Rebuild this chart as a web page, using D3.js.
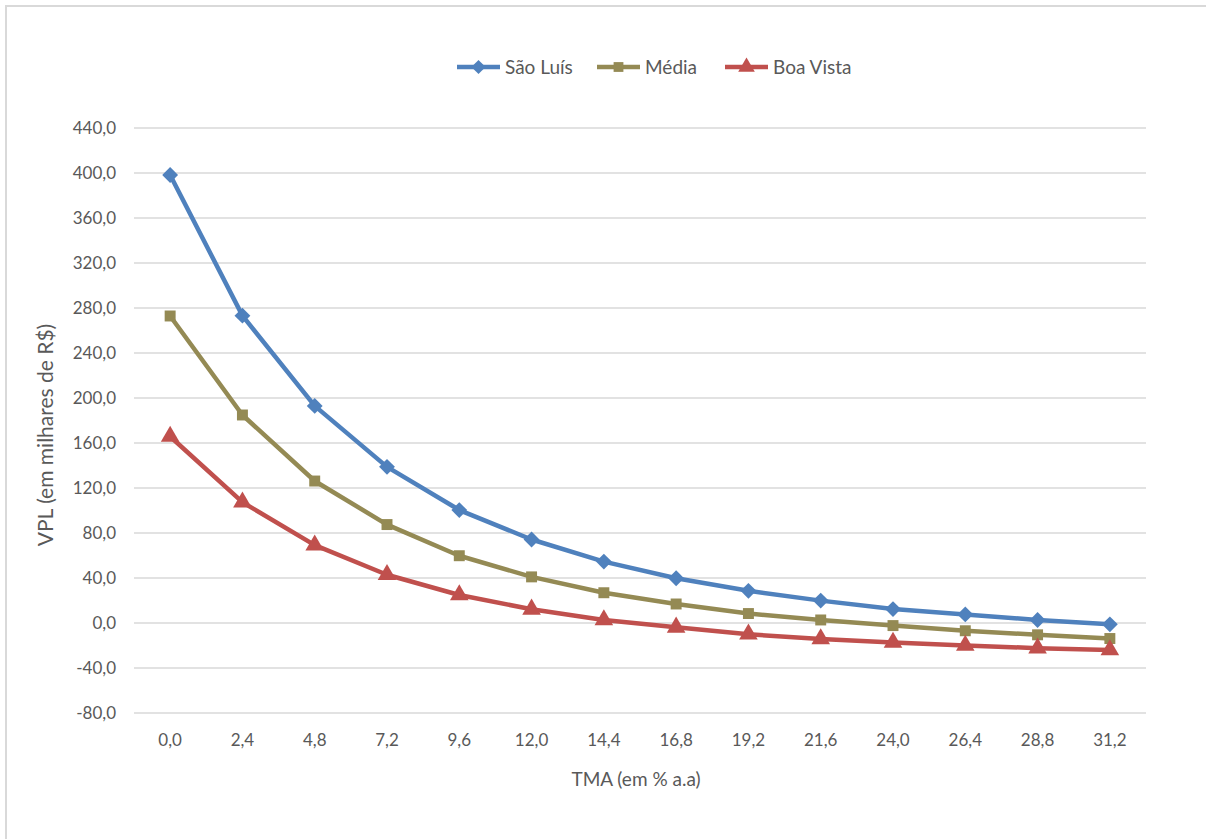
<!DOCTYPE html>
<html>
<head>
<meta charset="utf-8">
<script src="https://cdn.jsdelivr.net/npm/d3@7"></script>
<style>
  html, body { margin: 0; padding: 0; background: #fff; }
  svg { display: block; font-family: Lato, "Open Sans", sans-serif; }
</style>
</head>
<body>
<svg id="chart" width="1206" height="839"></svg>
<script>
// TMA rates (% a.a) on the x axis
const rates = ["0,0", "2,4", "4,8", "7,2", "9,6", "12,0", "14,4", "16,8", "19,2", "21,6", "24,0", "26,4", "28,8", "31,2"];

// VPL in thousands of R$
const saoLuis   = [398.2, 273.2, 193.0, 138.8, 100.4, 74.2, 54.6, 39.8, 28.6, 19.9, 12.4, 7.6, 2.7, -1.2];
const media     = [272.9, 184.9, 126.2, 87.5, 59.8, 41.0, 26.9, 16.9, 8.4, 2.7, -2.3, -6.9, -10.5, -13.8];
const boaVista  = [165.8, 107.4, 69.2, 42.9, 24.9, 12.2, 2.7, -3.8, -10.0, -14.2, -17.3, -19.9, -22.4, -24.0];

const yTicks = [-80, -40, 0, 40, 80, 120, 160, 200, 240, 280, 320, 360, 400, 440];

const seriesNames = ["São Luís", "Média", "Boa Vista"];
const seriesColors = ["#4F81BD", "#948A54", "#C0504D"];
const seriesMarkers = [d3.symbolDiamond2 || d3.symbolDiamond, d3.symbolSquare, d3.symbolTriangle];

const series = [saoLuis, media, boaVista].map((values, i) => ({
  name: seriesNames[i], color: seriesColors[i], marker: seriesMarkers[i], values
}));

const svg = d3.select("#chart");
const W = 1206, H = 839;

// outer chart frame
svg.append("rect")
  .attr("x", 6).attr("y", 6)
  .attr("width", W + 20).attr("height", H + 20)
  .attr("fill", "#fff").attr("stroke", "#d9d9d9").attr("stroke-width", 2);

const plot = { left: 134, right: 1146, top: 128, bottom: 713 };

const x = d3.scaleBand().domain(rates).range([plot.left, plot.right]);
const y = d3.scaleLinear().domain([-80, 440]).range([plot.bottom, plot.top]);

const fmt = v => d3.format(".1f")(v).replace(".", ",").replace("−", "-");

// horizontal gridlines
svg.append("g")
  .selectAll("line").data(yTicks).join("line")
  .attr("x1", plot.left).attr("x2", plot.right)
  .attr("y1", d => y(d)).attr("y2", d => y(d))
  .attr("stroke", "#d9d9d9").attr("stroke-width", 1.3);

// y axis labels
const yAxis = d3.axisLeft(y).tickValues(yTicks).tickSize(0).tickPadding(0).tickFormat(fmt);
const gy = svg.append("g").attr("transform", `translate(${plot.left - 18},0)`).call(yAxis);
gy.select(".domain").remove();
gy.selectAll("text").attr("fill", "#595959").attr("font-size", 17).attr("font-family", "Lato, 'Open Sans', sans-serif");

// x axis labels
const xAxis = d3.axisBottom(x).tickSize(0).tickPadding(0);
const gx = svg.append("g").attr("transform", `translate(0,${plot.bottom + 21})`).call(xAxis);
gx.select(".domain").remove();
gx.selectAll("text").attr("fill", "#595959").attr("font-size", 17).attr("font-family", "Lato, 'Open Sans', sans-serif");

// axis titles
svg.append("text")
  .attr("x", 636).attr("y", 786)
  .attr("text-anchor", "middle").attr("fill", "#595959").attr("font-size", 19)
  .text("TMA (em % a.a)");

svg.append("text")
  .attr("transform", "translate(53,435) rotate(-90)")
  .attr("text-anchor", "middle").attr("fill", "#595959").attr("font-size", 21)
  .text("VPL (em milhares de R$)");

// lines and markers
const line = d3.line()
  .x((d, i) => x(rates[i]) + x.bandwidth() / 2)
  .y(d => y(d));

const symbolSize = [160, 120, 150];

series.forEach((s, si) => {
  svg.append("path")
    .attr("d", line(s.values))
    .attr("fill", "none").attr("stroke", s.color)
    .attr("stroke-width", 4.5).attr("stroke-linejoin", "round");
  svg.append("g").selectAll("path").data(s.values).join("path")
    .attr("transform", (d, i) => `translate(${x(rates[i]) + x.bandwidth() / 2},${y(d)})`)
    .attr("d", d3.symbol().type(s.marker).size(symbolSize[si]))
    .attr("fill", s.color);
});

// legend
const legendX = [457, 597, 725];
const legend = svg.append("g");
series.forEach((s, i) => {
  const g = legend.append("g").attr("transform", `translate(${legendX[i]},67)`);
  g.append("line").attr("x1", 0).attr("x2", 43).attr("y1", 0).attr("y2", 0)
    .attr("stroke", s.color).attr("stroke-width", 4.5);
  g.append("path").attr("transform", "translate(21.5,0)")
    .attr("d", d3.symbol().type(s.marker).size(symbolSize[i] * 0.8))
    .attr("fill", s.color);
  g.append("text").attr("x", 48).attr("y", 6.5)
    .attr("fill", "#595959").attr("font-size", 19)
    .text(s.name);
});
</script>
</body>
</html>
